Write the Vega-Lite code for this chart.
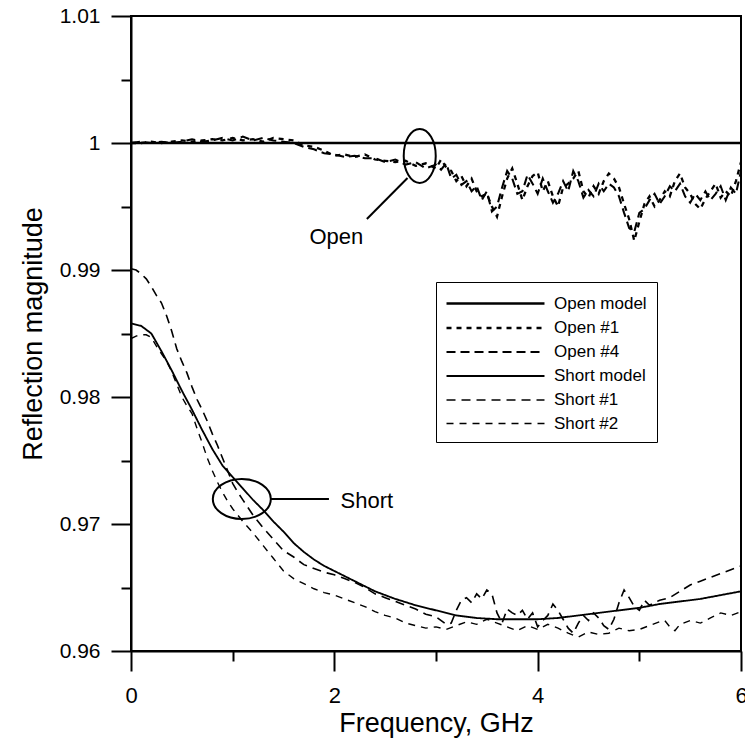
{
  "$schema": "https://vega.github.io/schema/vega-lite/v6.json",
  "width": 610,
  "height": 635,
  "autosize": {"type": "none"},
  "padding": {"left": 131, "top": 16, "right": 4, "bottom": 98},
  "background": "white",
  "config": {
    "font": "Liberation Sans",
    "view": {"stroke": "black", "strokeWidth": 2},
    "axis": {"domainColor": "black", "domainWidth": 2, "tickColor": "black", "tickWidth": 2, "labelColor": "black", "titleColor": "black", "grid": false, "labelFont": "Liberation Sans", "titleFont": "Liberation Sans", "titleFontWeight": "normal"}
  },
  "datasets": {
    "curves": [
      {"s": "Open model", "f": 0, "r": 1}, {"s": "Open model", "f": 6, "r": 1},
      {"s": "Open #1", "f": 0, "r": 1.0000}, {"s": "Open #1", "f": 0.1, "r": 1.0000}, {"s": "Open #1", "f": 0.2, "r": 1.0001}, {"s": "Open #1", "f": 0.3, "r": 1.0000}, {"s": "Open #1", "f": 0.4, "r": 1.0001}, {"s": "Open #1", "f": 0.5, "r": 1.0002}, {"s": "Open #1", "f": 0.6, "r": 1.0001}, {"s": "Open #1", "f": 0.7, "r": 1.0002}, {"s": "Open #1", "f": 0.8, "r": 1.0003}, {"s": "Open #1", "f": 0.9, "r": 1.0002}, {"s": "Open #1", "f": 1.0, "r": 1.0004}, {"s": "Open #1", "f": 1.1, "r": 1.0002}, {"s": "Open #1", "f": 1.2, "r": 1.0003}, {"s": "Open #1", "f": 1.3, "r": 1.0001}, {"s": "Open #1", "f": 1.4, "r": 1.0004}, {"s": "Open #1", "f": 1.5, "r": 1.0003}, {"s": "Open #1", "f": 1.6, "r": 1.0002}, {"s": "Open #1", "f": 1.7, "r": 0.9998}, {"s": "Open #1", "f": 1.8, "r": 0.9997}, {"s": "Open #1", "f": 1.9, "r": 0.9994}, {"s": "Open #1", "f": 2.0, "r": 0.9990}, {"s": "Open #1", "f": 2.1, "r": 0.9991}, {"s": "Open #1", "f": 2.2, "r": 0.9989}, {"s": "Open #1", "f": 2.3, "r": 0.9991}, {"s": "Open #1", "f": 2.4, "r": 0.9987}, {"s": "Open #1", "f": 2.5, "r": 0.9986}, {"s": "Open #1", "f": 2.6, "r": 0.9985}, {"s": "Open #1", "f": 2.7, "r": 0.9986}, {"s": "Open #1", "f": 2.8, "r": 0.9982}, {"s": "Open #1", "f": 2.9, "r": 0.9984}, {"s": "Open #1", "f": 3.0, "r": 0.9980}, {"s": "Open #1", "f": 3.05, "r": 0.9987}, {"s": "Open #1", "f": 3.1, "r": 0.9981}, {"s": "Open #1", "f": 3.15, "r": 0.9978}, {"s": "Open #1", "f": 3.2, "r": 0.9970}, {"s": "Open #1", "f": 3.25, "r": 0.9974}, {"s": "Open #1", "f": 3.3, "r": 0.9966}, {"s": "Open #1", "f": 3.35, "r": 0.9972}, {"s": "Open #1", "f": 3.4, "r": 0.9962}, {"s": "Open #1", "f": 3.45, "r": 0.9958}, {"s": "Open #1", "f": 3.5, "r": 0.9960}, {"s": "Open #1", "f": 3.55, "r": 0.9950}, {"s": "Open #1", "f": 3.6, "r": 0.9942}, {"s": "Open #1", "f": 3.65, "r": 0.9958}, {"s": "Open #1", "f": 3.7, "r": 0.9972}, {"s": "Open #1", "f": 3.75, "r": 0.9980}, {"s": "Open #1", "f": 3.8, "r": 0.9968}, {"s": "Open #1", "f": 3.85, "r": 0.9955}, {"s": "Open #1", "f": 3.9, "r": 0.9966}, {"s": "Open #1", "f": 3.95, "r": 0.9974}, {"s": "Open #1", "f": 4.0, "r": 0.9977}, {"s": "Open #1", "f": 4.05, "r": 0.9962}, {"s": "Open #1", "f": 4.1, "r": 0.9970}, {"s": "Open #1", "f": 4.15, "r": 0.9958}, {"s": "Open #1", "f": 4.2, "r": 0.9950}, {"s": "Open #1", "f": 4.25, "r": 0.9965}, {"s": "Open #1", "f": 4.3, "r": 0.9968}, {"s": "Open #1", "f": 4.35, "r": 0.9972}, {"s": "Open #1", "f": 4.4, "r": 0.9978}, {"s": "Open #1", "f": 4.45, "r": 0.9962}, {"s": "Open #1", "f": 4.5, "r": 0.9957}, {"s": "Open #1", "f": 4.55, "r": 0.9966}, {"s": "Open #1", "f": 4.6, "r": 0.9960}, {"s": "Open #1", "f": 4.65, "r": 0.9970}, {"s": "Open #1", "f": 4.7, "r": 0.9976}, {"s": "Open #1", "f": 4.75, "r": 0.9972}, {"s": "Open #1", "f": 4.8, "r": 0.9965}, {"s": "Open #1", "f": 4.85, "r": 0.9952}, {"s": "Open #1", "f": 4.9, "r": 0.9940}, {"s": "Open #1", "f": 4.95, "r": 0.9923}, {"s": "Open #1", "f": 5.0, "r": 0.9938}, {"s": "Open #1", "f": 5.05, "r": 0.9952}, {"s": "Open #1", "f": 5.1, "r": 0.9958}, {"s": "Open #1", "f": 5.15, "r": 0.9950}, {"s": "Open #1", "f": 5.2, "r": 0.9955}, {"s": "Open #1", "f": 5.25, "r": 0.9962}, {"s": "Open #1", "f": 5.3, "r": 0.9958}, {"s": "Open #1", "f": 5.35, "r": 0.9970}, {"s": "Open #1", "f": 5.4, "r": 0.9976}, {"s": "Open #1", "f": 5.45, "r": 0.9965}, {"s": "Open #1", "f": 5.5, "r": 0.9960}, {"s": "Open #1", "f": 5.55, "r": 0.9952}, {"s": "Open #1", "f": 5.6, "r": 0.9948}, {"s": "Open #1", "f": 5.65, "r": 0.9956}, {"s": "Open #1", "f": 5.7, "r": 0.9962}, {"s": "Open #1", "f": 5.75, "r": 0.9968}, {"s": "Open #1", "f": 5.8, "r": 0.9957}, {"s": "Open #1", "f": 5.85, "r": 0.9962}, {"s": "Open #1", "f": 5.9, "r": 0.9958}, {"s": "Open #1", "f": 5.95, "r": 0.9970}, {"s": "Open #1", "f": 6.0, "r": 0.9985},
      {"s": "Open #4", "f": 0, "r": 1.0000}, {"s": "Open #4", "f": 0.1, "r": 1.0001}, {"s": "Open #4", "f": 0.2, "r": 1.0000}, {"s": "Open #4", "f": 0.3, "r": 1.0001}, {"s": "Open #4", "f": 0.4, "r": 1.0000}, {"s": "Open #4", "f": 0.5, "r": 1.0001}, {"s": "Open #4", "f": 0.6, "r": 1.0003}, {"s": "Open #4", "f": 0.7, "r": 1.0001}, {"s": "Open #4", "f": 0.8, "r": 1.0002}, {"s": "Open #4", "f": 0.9, "r": 1.0004}, {"s": "Open #4", "f": 1.0, "r": 1.0002}, {"s": "Open #4", "f": 1.1, "r": 1.0005}, {"s": "Open #4", "f": 1.2, "r": 1.0002}, {"s": "Open #4", "f": 1.3, "r": 1.0004}, {"s": "Open #4", "f": 1.4, "r": 1.0002}, {"s": "Open #4", "f": 1.5, "r": 1.0001}, {"s": "Open #4", "f": 1.6, "r": 1.0000}, {"s": "Open #4", "f": 1.7, "r": 0.9997}, {"s": "Open #4", "f": 1.8, "r": 0.9995}, {"s": "Open #4", "f": 1.9, "r": 0.9992}, {"s": "Open #4", "f": 2.0, "r": 0.9991}, {"s": "Open #4", "f": 2.1, "r": 0.9989}, {"s": "Open #4", "f": 2.2, "r": 0.9990}, {"s": "Open #4", "f": 2.3, "r": 0.9988}, {"s": "Open #4", "f": 2.4, "r": 0.9988}, {"s": "Open #4", "f": 2.5, "r": 0.9985}, {"s": "Open #4", "f": 2.6, "r": 0.9987}, {"s": "Open #4", "f": 2.7, "r": 0.9983}, {"s": "Open #4", "f": 2.8, "r": 0.9985}, {"s": "Open #4", "f": 2.9, "r": 0.9980}, {"s": "Open #4", "f": 3.0, "r": 0.9983}, {"s": "Open #4", "f": 3.05, "r": 0.9979}, {"s": "Open #4", "f": 3.1, "r": 0.9984}, {"s": "Open #4", "f": 3.15, "r": 0.9972}, {"s": "Open #4", "f": 3.2, "r": 0.9975}, {"s": "Open #4", "f": 3.25, "r": 0.9967}, {"s": "Open #4", "f": 3.3, "r": 0.9970}, {"s": "Open #4", "f": 3.35, "r": 0.9962}, {"s": "Open #4", "f": 3.4, "r": 0.9966}, {"s": "Open #4", "f": 3.45, "r": 0.9955}, {"s": "Open #4", "f": 3.5, "r": 0.9962}, {"s": "Open #4", "f": 3.55, "r": 0.9946}, {"s": "Open #4", "f": 3.6, "r": 0.9950}, {"s": "Open #4", "f": 3.65, "r": 0.9965}, {"s": "Open #4", "f": 3.7, "r": 0.9978}, {"s": "Open #4", "f": 3.75, "r": 0.9972}, {"s": "Open #4", "f": 3.8, "r": 0.9960}, {"s": "Open #4", "f": 3.85, "r": 0.9962}, {"s": "Open #4", "f": 3.9, "r": 0.9975}, {"s": "Open #4", "f": 3.95, "r": 0.9968}, {"s": "Open #4", "f": 4.0, "r": 0.9960}, {"s": "Open #4", "f": 4.05, "r": 0.9972}, {"s": "Open #4", "f": 4.1, "r": 0.9962}, {"s": "Open #4", "f": 4.15, "r": 0.9953}, {"s": "Open #4", "f": 4.2, "r": 0.9960}, {"s": "Open #4", "f": 4.25, "r": 0.9970}, {"s": "Open #4", "f": 4.3, "r": 0.9962}, {"s": "Open #4", "f": 4.35, "r": 0.9978}, {"s": "Open #4", "f": 4.4, "r": 0.9970}, {"s": "Open #4", "f": 4.45, "r": 0.9957}, {"s": "Open #4", "f": 4.5, "r": 0.9963}, {"s": "Open #4", "f": 4.55, "r": 0.9958}, {"s": "Open #4", "f": 4.6, "r": 0.9968}, {"s": "Open #4", "f": 4.65, "r": 0.9962}, {"s": "Open #4", "f": 4.7, "r": 0.9968}, {"s": "Open #4", "f": 4.75, "r": 0.9965}, {"s": "Open #4", "f": 4.8, "r": 0.9958}, {"s": "Open #4", "f": 4.85, "r": 0.9945}, {"s": "Open #4", "f": 4.9, "r": 0.9933}, {"s": "Open #4", "f": 4.95, "r": 0.9930}, {"s": "Open #4", "f": 5.0, "r": 0.9945}, {"s": "Open #4", "f": 5.05, "r": 0.9948}, {"s": "Open #4", "f": 5.1, "r": 0.9955}, {"s": "Open #4", "f": 5.15, "r": 0.9960}, {"s": "Open #4", "f": 5.2, "r": 0.9952}, {"s": "Open #4", "f": 5.25, "r": 0.9958}, {"s": "Open #4", "f": 5.3, "r": 0.9966}, {"s": "Open #4", "f": 5.35, "r": 0.9962}, {"s": "Open #4", "f": 5.4, "r": 0.9968}, {"s": "Open #4", "f": 5.45, "r": 0.9958}, {"s": "Open #4", "f": 5.5, "r": 0.9953}, {"s": "Open #4", "f": 5.55, "r": 0.9960}, {"s": "Open #4", "f": 5.6, "r": 0.9955}, {"s": "Open #4", "f": 5.65, "r": 0.9962}, {"s": "Open #4", "f": 5.7, "r": 0.9955}, {"s": "Open #4", "f": 5.75, "r": 0.9960}, {"s": "Open #4", "f": 5.8, "r": 0.9966}, {"s": "Open #4", "f": 5.85, "r": 0.9955}, {"s": "Open #4", "f": 5.9, "r": 0.9965}, {"s": "Open #4", "f": 5.95, "r": 0.9960}, {"s": "Open #4", "f": 6.0, "r": 0.9978},
      {"s": "Short model", "f": 0, "r": 0.9858}, {"s": "Short model", "f": 0.1, "r": 0.9856}, {"s": "Short model", "f": 0.2, "r": 0.9850}, {"s": "Short model", "f": 0.3, "r": 0.9836}, {"s": "Short model", "f": 0.4, "r": 0.9821}, {"s": "Short model", "f": 0.5, "r": 0.9805}, {"s": "Short model", "f": 0.6, "r": 0.9790}, {"s": "Short model", "f": 0.7, "r": 0.9774}, {"s": "Short model", "f": 0.8, "r": 0.9759}, {"s": "Short model", "f": 0.9, "r": 0.9746}, {"s": "Short model", "f": 1.0, "r": 0.9737}, {"s": "Short model", "f": 1.1, "r": 0.9728}, {"s": "Short model", "f": 1.2, "r": 0.9719}, {"s": "Short model", "f": 1.3, "r": 0.9711}, {"s": "Short model", "f": 1.4, "r": 0.9702}, {"s": "Short model", "f": 1.5, "r": 0.9694}, {"s": "Short model", "f": 1.6, "r": 0.9685}, {"s": "Short model", "f": 1.7, "r": 0.9678}, {"s": "Short model", "f": 1.8, "r": 0.9672}, {"s": "Short model", "f": 1.9, "r": 0.9667}, {"s": "Short model", "f": 2.0, "r": 0.9663}, {"s": "Short model", "f": 2.2, "r": 0.9655}, {"s": "Short model", "f": 2.4, "r": 0.9647}, {"s": "Short model", "f": 2.6, "r": 0.9641}, {"s": "Short model", "f": 2.8, "r": 0.9636}, {"s": "Short model", "f": 3.0, "r": 0.9632}, {"s": "Short model", "f": 3.2, "r": 0.9628}, {"s": "Short model", "f": 3.4, "r": 0.9626}, {"s": "Short model", "f": 3.6, "r": 0.9625}, {"s": "Short model", "f": 3.8, "r": 0.9625}, {"s": "Short model", "f": 4.0, "r": 0.9625}, {"s": "Short model", "f": 4.2, "r": 0.9626}, {"s": "Short model", "f": 4.4, "r": 0.9628}, {"s": "Short model", "f": 4.6, "r": 0.9630}, {"s": "Short model", "f": 4.8, "r": 0.9632}, {"s": "Short model", "f": 5.0, "r": 0.9634}, {"s": "Short model", "f": 5.2, "r": 0.9637}, {"s": "Short model", "f": 5.4, "r": 0.9639}, {"s": "Short model", "f": 5.6, "r": 0.9641}, {"s": "Short model", "f": 5.8, "r": 0.9644}, {"s": "Short model", "f": 6.0, "r": 0.9647},
      {"s": "Short #1", "f": 0, "r": 0.9901}, {"s": "Short #1", "f": 0.05, "r": 0.9900}, {"s": "Short #1", "f": 0.1, "r": 0.9897}, {"s": "Short #1", "f": 0.15, "r": 0.9893}, {"s": "Short #1", "f": 0.2, "r": 0.9887}, {"s": "Short #1", "f": 0.25, "r": 0.9880}, {"s": "Short #1", "f": 0.3, "r": 0.9874}, {"s": "Short #1", "f": 0.35, "r": 0.9864}, {"s": "Short #1", "f": 0.4, "r": 0.9852}, {"s": "Short #1", "f": 0.45, "r": 0.9838}, {"s": "Short #1", "f": 0.5, "r": 0.9828}, {"s": "Short #1", "f": 0.55, "r": 0.9819}, {"s": "Short #1", "f": 0.6, "r": 0.9808}, {"s": "Short #1", "f": 0.65, "r": 0.9798}, {"s": "Short #1", "f": 0.7, "r": 0.9790}, {"s": "Short #1", "f": 0.75, "r": 0.9781}, {"s": "Short #1", "f": 0.8, "r": 0.9771}, {"s": "Short #1", "f": 0.85, "r": 0.9762}, {"s": "Short #1", "f": 0.9, "r": 0.9752}, {"s": "Short #1", "f": 0.95, "r": 0.9742}, {"s": "Short #1", "f": 1.0, "r": 0.9732}, {"s": "Short #1", "f": 1.05, "r": 0.9725}, {"s": "Short #1", "f": 1.1, "r": 0.9719}, {"s": "Short #1", "f": 1.2, "r": 0.9707}, {"s": "Short #1", "f": 1.3, "r": 0.9697}, {"s": "Short #1", "f": 1.4, "r": 0.9688}, {"s": "Short #1", "f": 1.5, "r": 0.9679}, {"s": "Short #1", "f": 1.6, "r": 0.9674}, {"s": "Short #1", "f": 1.7, "r": 0.9668}, {"s": "Short #1", "f": 1.8, "r": 0.9665}, {"s": "Short #1", "f": 1.9, "r": 0.9662}, {"s": "Short #1", "f": 2.0, "r": 0.9660}, {"s": "Short #1", "f": 2.1, "r": 0.9657}, {"s": "Short #1", "f": 2.2, "r": 0.9654}, {"s": "Short #1", "f": 2.3, "r": 0.9650}, {"s": "Short #1", "f": 2.4, "r": 0.9645}, {"s": "Short #1", "f": 2.5, "r": 0.9642}, {"s": "Short #1", "f": 2.6, "r": 0.9639}, {"s": "Short #1", "f": 2.7, "r": 0.9636}, {"s": "Short #1", "f": 2.8, "r": 0.9633}, {"s": "Short #1", "f": 2.9, "r": 0.9629}, {"s": "Short #1", "f": 3.0, "r": 0.9627}, {"s": "Short #1", "f": 3.1, "r": 0.9621}, {"s": "Short #1", "f": 3.15, "r": 0.9622}, {"s": "Short #1", "f": 3.2, "r": 0.9632}, {"s": "Short #1", "f": 3.25, "r": 0.9640}, {"s": "Short #1", "f": 3.3, "r": 0.9642}, {"s": "Short #1", "f": 3.35, "r": 0.9638}, {"s": "Short #1", "f": 3.4, "r": 0.9645}, {"s": "Short #1", "f": 3.45, "r": 0.9641}, {"s": "Short #1", "f": 3.5, "r": 0.9648}, {"s": "Short #1", "f": 3.55, "r": 0.9645}, {"s": "Short #1", "f": 3.6, "r": 0.9630}, {"s": "Short #1", "f": 3.65, "r": 0.9622}, {"s": "Short #1", "f": 3.7, "r": 0.9633}, {"s": "Short #1", "f": 3.75, "r": 0.9630}, {"s": "Short #1", "f": 3.8, "r": 0.9628}, {"s": "Short #1", "f": 3.85, "r": 0.9632}, {"s": "Short #1", "f": 3.9, "r": 0.9625}, {"s": "Short #1", "f": 3.95, "r": 0.9630}, {"s": "Short #1", "f": 4.0, "r": 0.9619}, {"s": "Short #1", "f": 4.05, "r": 0.9624}, {"s": "Short #1", "f": 4.1, "r": 0.9628}, {"s": "Short #1", "f": 4.15, "r": 0.9637}, {"s": "Short #1", "f": 4.2, "r": 0.9632}, {"s": "Short #1", "f": 4.25, "r": 0.9625}, {"s": "Short #1", "f": 4.3, "r": 0.9618}, {"s": "Short #1", "f": 4.35, "r": 0.9614}, {"s": "Short #1", "f": 4.4, "r": 0.9622}, {"s": "Short #1", "f": 4.45, "r": 0.9628}, {"s": "Short #1", "f": 4.5, "r": 0.9624}, {"s": "Short #1", "f": 4.55, "r": 0.9630}, {"s": "Short #1", "f": 4.6, "r": 0.9626}, {"s": "Short #1", "f": 4.65, "r": 0.9620}, {"s": "Short #1", "f": 4.7, "r": 0.9617}, {"s": "Short #1", "f": 4.75, "r": 0.9625}, {"s": "Short #1", "f": 4.8, "r": 0.9638}, {"s": "Short #1", "f": 4.85, "r": 0.9648}, {"s": "Short #1", "f": 4.9, "r": 0.9642}, {"s": "Short #1", "f": 4.95, "r": 0.9635}, {"s": "Short #1", "f": 5.0, "r": 0.9632}, {"s": "Short #1", "f": 5.05, "r": 0.9640}, {"s": "Short #1", "f": 5.1, "r": 0.9636}, {"s": "Short #1", "f": 5.2, "r": 0.9640}, {"s": "Short #1", "f": 5.3, "r": 0.9642}, {"s": "Short #1", "f": 5.4, "r": 0.9647}, {"s": "Short #1", "f": 5.5, "r": 0.9652}, {"s": "Short #1", "f": 5.6, "r": 0.9655}, {"s": "Short #1", "f": 5.7, "r": 0.9658}, {"s": "Short #1", "f": 5.8, "r": 0.9661}, {"s": "Short #1", "f": 5.9, "r": 0.9664}, {"s": "Short #1", "f": 6.0, "r": 0.9667},
      {"s": "Short #2", "f": 0, "r": 0.9846}, {"s": "Short #2", "f": 0.05, "r": 0.9848}, {"s": "Short #2", "f": 0.1, "r": 0.9849}, {"s": "Short #2", "f": 0.15, "r": 0.9849}, {"s": "Short #2", "f": 0.2, "r": 0.9847}, {"s": "Short #2", "f": 0.25, "r": 0.9840}, {"s": "Short #2", "f": 0.3, "r": 0.9834}, {"s": "Short #2", "f": 0.35, "r": 0.9828}, {"s": "Short #2", "f": 0.4, "r": 0.9820}, {"s": "Short #2", "f": 0.45, "r": 0.9810}, {"s": "Short #2", "f": 0.5, "r": 0.9800}, {"s": "Short #2", "f": 0.55, "r": 0.9793}, {"s": "Short #2", "f": 0.6, "r": 0.9787}, {"s": "Short #2", "f": 0.65, "r": 0.9775}, {"s": "Short #2", "f": 0.7, "r": 0.9764}, {"s": "Short #2", "f": 0.75, "r": 0.9752}, {"s": "Short #2", "f": 0.8, "r": 0.9742}, {"s": "Short #2", "f": 0.85, "r": 0.9733}, {"s": "Short #2", "f": 0.9, "r": 0.9725}, {"s": "Short #2", "f": 0.95, "r": 0.9718}, {"s": "Short #2", "f": 1.0, "r": 0.9712}, {"s": "Short #2", "f": 1.1, "r": 0.9702}, {"s": "Short #2", "f": 1.2, "r": 0.9693}, {"s": "Short #2", "f": 1.3, "r": 0.9683}, {"s": "Short #2", "f": 1.4, "r": 0.9673}, {"s": "Short #2", "f": 1.5, "r": 0.9663}, {"s": "Short #2", "f": 1.6, "r": 0.9657}, {"s": "Short #2", "f": 1.7, "r": 0.9653}, {"s": "Short #2", "f": 1.8, "r": 0.9649}, {"s": "Short #2", "f": 1.9, "r": 0.9646}, {"s": "Short #2", "f": 2.0, "r": 0.9644}, {"s": "Short #2", "f": 2.1, "r": 0.9641}, {"s": "Short #2", "f": 2.2, "r": 0.9638}, {"s": "Short #2", "f": 2.3, "r": 0.9635}, {"s": "Short #2", "f": 2.4, "r": 0.9631}, {"s": "Short #2", "f": 2.5, "r": 0.9628}, {"s": "Short #2", "f": 2.6, "r": 0.9626}, {"s": "Short #2", "f": 2.7, "r": 0.9622}, {"s": "Short #2", "f": 2.8, "r": 0.9620}, {"s": "Short #2", "f": 2.9, "r": 0.9618}, {"s": "Short #2", "f": 3.0, "r": 0.9619}, {"s": "Short #2", "f": 3.1, "r": 0.9617}, {"s": "Short #2", "f": 3.2, "r": 0.9620}, {"s": "Short #2", "f": 3.3, "r": 0.9623}, {"s": "Short #2", "f": 3.4, "r": 0.9621}, {"s": "Short #2", "f": 3.5, "r": 0.9625}, {"s": "Short #2", "f": 3.6, "r": 0.9622}, {"s": "Short #2", "f": 3.7, "r": 0.9619}, {"s": "Short #2", "f": 3.8, "r": 0.9616}, {"s": "Short #2", "f": 3.9, "r": 0.9620}, {"s": "Short #2", "f": 4.0, "r": 0.9617}, {"s": "Short #2", "f": 4.1, "r": 0.9621}, {"s": "Short #2", "f": 4.2, "r": 0.9618}, {"s": "Short #2", "f": 4.3, "r": 0.9614}, {"s": "Short #2", "f": 4.4, "r": 0.9611}, {"s": "Short #2", "f": 4.5, "r": 0.9615}, {"s": "Short #2", "f": 4.6, "r": 0.9613}, {"s": "Short #2", "f": 4.7, "r": 0.9614}, {"s": "Short #2", "f": 4.8, "r": 0.9618}, {"s": "Short #2", "f": 4.9, "r": 0.9616}, {"s": "Short #2", "f": 5.0, "r": 0.9617}, {"s": "Short #2", "f": 5.1, "r": 0.9620}, {"s": "Short #2", "f": 5.2, "r": 0.9623}, {"s": "Short #2", "f": 5.25, "r": 0.9624}, {"s": "Short #2", "f": 5.3, "r": 0.9619}, {"s": "Short #2", "f": 5.35, "r": 0.9616}, {"s": "Short #2", "f": 5.4, "r": 0.9621}, {"s": "Short #2", "f": 5.5, "r": 0.9624}, {"s": "Short #2", "f": 5.6, "r": 0.9622}, {"s": "Short #2", "f": 5.7, "r": 0.9626}, {"s": "Short #2", "f": 5.8, "r": 0.9630}, {"s": "Short #2", "f": 5.9, "r": 0.9628}, {"s": "Short #2", "f": 6.0, "r": 0.9631}
    ],
    "openEllipse": [{"f": 2.84, "r": 0.99898}],
    "shortEllipse": [{"f": 1.09, "r": 0.97197}],
    "connectors": [
      {"f": 2.72, "r": 0.99724, "f2": 2.32, "r2": 0.99402},
      {"f": 1.377, "r": 0.97197, "f2": 1.947, "r2": 0.97197}
    ],
    "labels": [
      {"f": 2.02, "r": 0.99205, "t": "Open"},
      {"f": 2.32, "r": 0.97126, "t": "Short"}
    ]
  },
  "layer": [
    {
      "data": {"name": "curves"},
      "mark": {"type": "line", "color": "black", "strokeCap": "butt", "clip": true},
      "encoding": {
        "x": {"field": "f", "type": "quantitative", "scale": {"domain": [0, 6], "nice": false, "zero": false},
              "axis": {"orient": "bottom", "values": [0, 2, 4, 6], "tickSize": 20, "labelFontSize": 22, "labelPadding": 14, "labelFlush": false, "format": "d", "title": "Frequency, GHz", "titleFontSize": 27, "titlePadding": 4}},
        "y": {"field": "r", "type": "quantitative", "scale": {"domain": [0.96, 1.01], "nice": false, "zero": false},
              "axis": {"orient": "left", "values": [0.96, 0.97, 0.98, 0.99, 1, 1.01], "tickSize": 20, "labelFontSize": 21, "labelPadding": 11, "format": ".2~f", "title": "Reflection magnitude", "titleFontSize": 27, "titlePadding": 12}},
        "strokeDash": {"field": "s", "type": "nominal",
          "scale": {"domain": ["Open model", "Open #1", "Open #4", "Short model", "Short #1", "Short #2"], "range": [[1, 0], [5, 5], [9, 5], [1, 0], [9, 6], [7, 6]]},
          "legend": {"title": null, "orient": "none", "legendX": 305, "legendY": 266, "symbolType": "M-5,0H5", "symbolSize": 384, "symbolStrokeColor": "black", "symbolOffset": 38, "labelOffset": 47, "labelFontSize": 17, "labelFont": "Liberation Sans", "labelColor": "black", "padding": 10, "rowPadding": 5, "strokeColor": "black", "fillColor": "white", "labelLimit": 200}},
        "strokeWidth": {"field": "s", "type": "nominal",
          "scale": {"domain": ["Open model", "Open #1", "Open #4", "Short model", "Short #1", "Short #2"], "range": [2.5, 1.4, 2.2, 2, 2, 1.6]}}
      }
    },
    {
      "data": {"name": "openEllipse"},
      "mark": {"type": "point", "shape": "M-0.593,0A0.593,1 0 1,1 0.593,0A0.593,1 0 1,1 -0.593,0Z", "size": 2916, "filled": false, "stroke": "black", "strokeWidth": 2, "opacity": 1},
      "encoding": {
        "x": {"field": "f", "type": "quantitative", "axis": {"orient": "bottom", "values": [1, 3, 5], "tickSize": 10, "labels": false, "domain": false, "title": null}},
        "y": {"field": "r", "type": "quantitative", "axis": {"orient": "left", "values": [0.965, 0.975, 0.985, 0.995, 1.005], "tickSize": 10, "labels": false, "domain": false, "title": null}}
      }
    },
    {
      "data": {"name": "shortEllipse"},
      "mark": {"type": "point", "shape": "M-1,0A1,0.69 0 1,1 1,0A1,0.69 0 1,1 -1,0Z", "size": 3364, "filled": false, "stroke": "black", "strokeWidth": 2, "opacity": 1},
      "encoding": {
        "x": {"field": "f", "type": "quantitative", "axis": null},
        "y": {"field": "r", "type": "quantitative", "axis": null}
      }
    },
    {
      "data": {"name": "connectors"},
      "mark": {"type": "rule", "color": "black", "strokeWidth": 2},
      "encoding": {
        "x": {"field": "f", "type": "quantitative", "axis": null},
        "y": {"field": "r", "type": "quantitative", "axis": null},
        "x2": {"field": "f2"},
        "y2": {"field": "r2"}
      }
    },
    {
      "data": {"name": "labels"},
      "mark": {"type": "text", "fontSize": 22, "font": "Liberation Sans", "color": "black", "baseline": "alphabetic"},
      "encoding": {
        "x": {"field": "f", "type": "quantitative", "axis": null},
        "y": {"field": "r", "type": "quantitative", "axis": null},
        "text": {"field": "t"}
      }
    }
  ],
  "resolve": {"axis": {"x": "independent", "y": "independent"}}
}
